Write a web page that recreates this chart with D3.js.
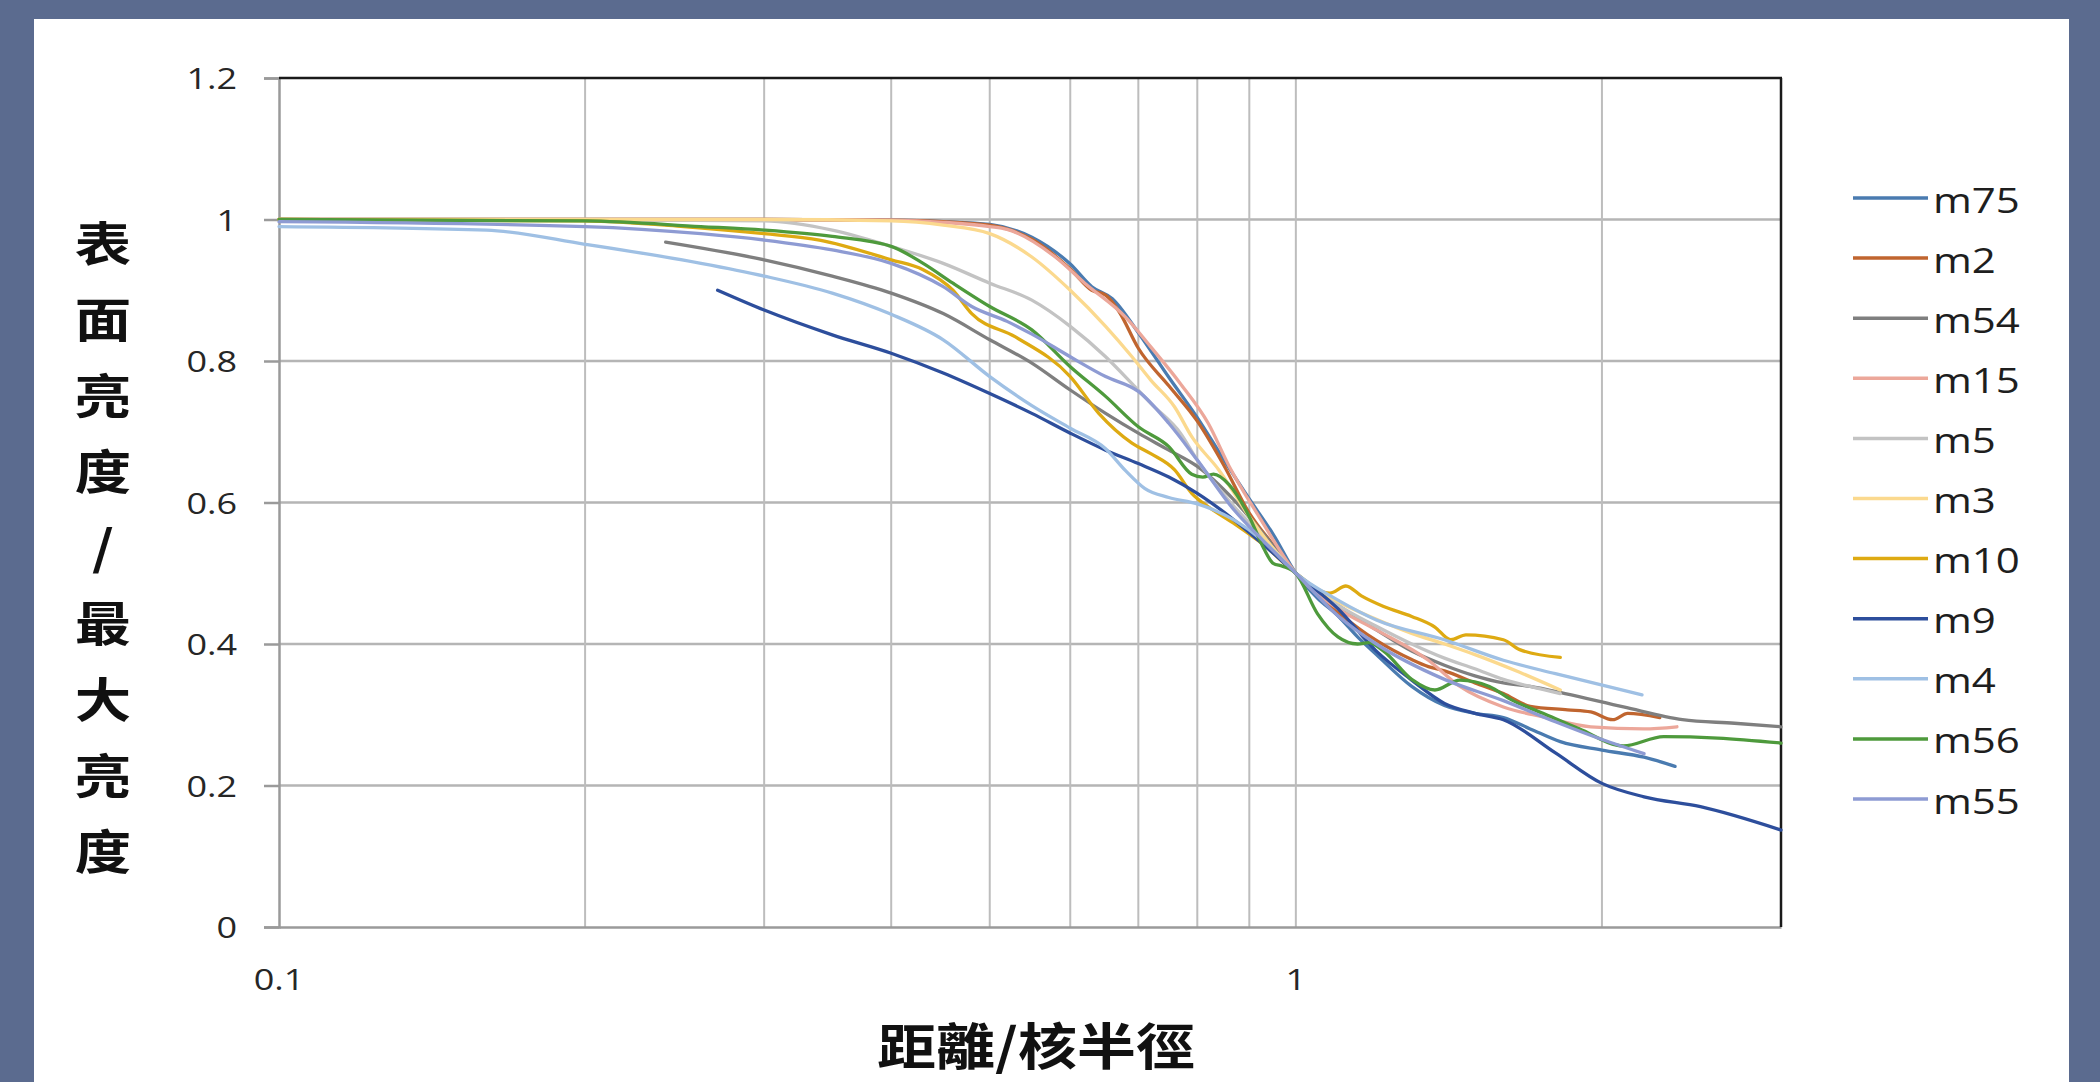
<!DOCTYPE html>
<html><head><meta charset="utf-8">
<script src="https://cdn.jsdelivr.net/npm/d3@7"></script>
<style>html,body{margin:0;padding:0;background:#5b6b8f;overflow:hidden}svg{display:block}</style>
</head><body><svg id="c" width="2100" height="1082"></svg>
<script>
// ---------- data ----------
const seriesNames = ["m75","m2","m54","m15","m5","m3","m10","m9","m4","m56","m55"];
const seriesColors = ["#4a7bb0","#c0652f","#7f7f7f","#eca79a","#c3c3c3","#fbd98e","#deaa12","#2d4e9c","#9fc0e4","#4e9a3c","#8e9bd3"];

const m75 = [[0.1,1.0],[0.2,1.0],[0.3,1.0],[0.4,0.999],[0.45,0.997],[0.5,0.993],[0.55,0.975],[0.6,0.937],[0.63,0.905],[0.66,0.888],[0.7,0.84],[0.75,0.777],[0.8,0.72],[0.85,0.66],[0.9,0.605],[0.95,0.555],[1.0,0.5],[1.05,0.465],[1.1,0.44],[1.15,0.41],[1.2,0.385],[1.3,0.34],[1.4,0.313],[1.5,0.302],[1.6,0.296],[1.7,0.28],[1.82,0.262],[2.0,0.25],[2.2,0.24],[2.36,0.227]];
const m2 = [[0.1,1.0],[0.2,1.0],[0.3,1.0],[0.4,0.999],[0.45,0.997],[0.5,0.992],[0.55,0.972],[0.6,0.93],[0.63,0.9],[0.65,0.893],[0.67,0.87],[0.7,0.818],[0.75,0.765],[0.8,0.715],[0.85,0.652],[0.9,0.585],[0.95,0.54],[1.0,0.5],[1.05,0.47],[1.1,0.445],[1.2,0.405],[1.3,0.378],[1.35,0.368],[1.4,0.362],[1.5,0.345],[1.6,0.33],[1.7,0.312],[1.85,0.307],[1.95,0.304],[2.05,0.293],[2.12,0.302],[2.28,0.296]];
const m54 = [[0.24,0.968],[0.3,0.943],[0.35,0.92],[0.4,0.896],[0.45,0.867],[0.5,0.83],[0.55,0.797],[0.6,0.759],[0.65,0.726],[0.7,0.698],[0.75,0.674],[0.8,0.651],[0.87,0.603],[0.93,0.555],[1.0,0.5],[1.1,0.455],[1.2,0.42],[1.3,0.39],[1.4,0.37],[1.5,0.355],[1.6,0.345],[1.7,0.34],[1.84,0.33],[2.1,0.311],[2.4,0.293],[2.7,0.288],[3.0,0.283]];
const m15 = [[0.1,1.0],[0.2,1.0],[0.3,1.0],[0.4,0.999],[0.45,0.996],[0.5,0.99],[0.52,0.986],[0.58,0.947],[0.62,0.91],[0.68,0.862],[0.72,0.82],[0.77,0.768],[0.82,0.712],[0.86,0.651],[0.92,0.58],[1.0,0.5],[1.1,0.45],[1.2,0.42],[1.35,0.377],[1.45,0.34],[1.6,0.311],[1.75,0.297],[1.95,0.283],[2.2,0.28],[2.37,0.283]];
const m5 = [[0.1,1.0],[0.2,1.0],[0.3,0.998],[0.35,0.985],[0.4,0.962],[0.45,0.938],[0.5,0.91],[0.55,0.886],[0.6,0.849],[0.65,0.806],[0.69,0.768],[0.72,0.74],[0.77,0.698],[0.8,0.66],[0.87,0.594],[0.93,0.55],[1.0,0.5],[1.1,0.455],[1.2,0.425],[1.3,0.4],[1.4,0.38],[1.5,0.365],[1.6,0.35],[1.7,0.34],[1.82,0.33]];
const m3 = [[0.1,1.0],[0.2,1.0],[0.3,1.0],[0.4,0.998],[0.45,0.992],[0.5,0.98],[0.55,0.947],[0.6,0.9],[0.65,0.849],[0.69,0.806],[0.72,0.773],[0.76,0.735],[0.79,0.693],[0.84,0.646],[0.9,0.58],[1.0,0.5],[1.1,0.46],[1.2,0.435],[1.3,0.415],[1.4,0.4],[1.5,0.385],[1.66,0.36],[1.82,0.335]];
const m10 = [[0.1,1.0],[0.2,0.998],[0.25,0.99],[0.3,0.98],[0.34,0.971],[0.4,0.943],[0.43,0.929],[0.46,0.9],[0.48,0.867],[0.53,0.834],[0.6,0.778],[0.64,0.726],[0.69,0.684],[0.72,0.669],[0.76,0.646],[0.79,0.613],[0.82,0.594],[0.87,0.57],[0.93,0.54],[1.0,0.5],[1.08,0.472],[1.12,0.482],[1.16,0.468],[1.22,0.453],[1.3,0.439],[1.37,0.424],[1.42,0.406],[1.47,0.413],[1.6,0.406],[1.66,0.392],[1.82,0.381]];
const m9 = [[0.27,0.9],[0.3,0.872],[0.35,0.837],[0.4,0.811],[0.45,0.783],[0.5,0.754],[0.55,0.726],[0.6,0.698],[0.65,0.674],[0.7,0.655],[0.75,0.636],[0.8,0.613],[0.87,0.575],[0.93,0.54],[1.0,0.5],[1.1,0.45],[1.2,0.39],[1.3,0.349],[1.4,0.316],[1.5,0.302],[1.6,0.293],[1.8,0.246],[2.0,0.203],[2.2,0.184],[2.5,0.17],[3.0,0.137]];
const m4 = [[0.1,0.99],[0.16,0.985],[0.2,0.965],[0.26,0.938],[0.3,0.92],[0.35,0.896],[0.4,0.866],[0.45,0.83],[0.5,0.778],[0.55,0.737],[0.6,0.705],[0.65,0.676],[0.68,0.645],[0.71,0.62],[0.75,0.607],[0.8,0.598],[0.87,0.575],[0.93,0.545],[1.0,0.5],[1.1,0.462],[1.2,0.434],[1.4,0.406],[1.6,0.377],[1.8,0.358],[2.19,0.328]];
const m56 = [[0.1,1.0],[0.2,0.998],[0.26,0.99],[0.3,0.985],[0.35,0.976],[0.4,0.962],[0.43,0.938],[0.46,0.91],[0.5,0.877],[0.55,0.844],[0.6,0.792],[0.65,0.75],[0.7,0.707],[0.75,0.679],[0.79,0.64],[0.81,0.636],[0.83,0.64],[0.86,0.625],[0.9,0.58],[0.93,0.535],[0.95,0.514],[0.97,0.51],[1.0,0.5],[1.05,0.443],[1.1,0.41],[1.15,0.4],[1.18,0.402],[1.22,0.39],[1.3,0.35],[1.37,0.335],[1.45,0.349],[1.55,0.34],[1.63,0.321],[1.75,0.302],[1.9,0.28],[2.1,0.256],[2.3,0.269],[2.6,0.267],[3.0,0.26]];
const m55 = [[0.1,0.997],[0.2,0.99],[0.26,0.98],[0.3,0.971],[0.35,0.957],[0.4,0.938],[0.45,0.905],[0.48,0.877],[0.52,0.856],[0.55,0.838],[0.6,0.806],[0.65,0.778],[0.7,0.757],[0.75,0.712],[0.8,0.66],[0.87,0.589],[0.93,0.545],[1.0,0.5],[1.1,0.44],[1.2,0.40],[1.4,0.35],[1.6,0.32],[1.8,0.29],[2.0,0.265],[2.2,0.245]];
const seriesData = [m75,m2,m54,m15,m5,m3,m10,m9,m4,m56,m55];

const yTicks = [0,0.2,0.4,0.6,0.8,1,1.2];
const yTickLabels = ["0","0.2","0.4","0.6","0.8","1","1.2"];
const xTicks = [0.1,1];
const xTickLabels = ["0.1","1"];
const xGridValues = [0.2,0.3,0.4,0.5,0.6,0.7,0.8,0.9,1,2];
const yTitle = "表面亮度/最大亮度";
const xTitle = "距離/核半徑";

// ---------- drawing ----------
const svg = d3.select("#c");
const SX = 1.2;
svg.append("rect").attr("x",0).attr("y",0).attr("width",2100).attr("height",1082).attr("fill","#5b6b8f");
svg.append("rect").attr("x",34).attr("y",19).attr("width",2035).attr("height",1063).attr("fill","#ffffff");

const L=279, R=1781, T=78, B=927;
const x = d3.scaleLog().domain([0.1,3]).range([L,R]);
const y = d3.scaleLinear().domain([0,1.2]).range([B,T]);

const grid = svg.append("g");
grid.selectAll("line.h").data(yTicks.filter(v=>v>0 && v<1.2)).join("line")
  .attr("x1",L).attr("x2",R).attr("y1",d=>y(d)).attr("y2",d=>y(d))
  .attr("stroke","#b5b5b5").attr("stroke-width",2.5);
grid.selectAll("line.v").data(xGridValues).join("line")
  .attr("x1",d=>x(d)).attr("x2",d=>x(d)).attr("y1",T).attr("y2",B)
  .attr("stroke","#bdbdbd").attr("stroke-width",2);

const yAxis = d3.axisLeft(y).tickValues(yTicks).tickSize(15).tickFormat(()=> "");
const ya = svg.append("g").attr("transform",`translate(${L},0)`).call(yAxis);
ya.select(".domain").attr("stroke","#9a9a9a").attr("stroke-width",2.5);
ya.selectAll(".tick line").attr("stroke","#9a9a9a").attr("stroke-width",2.5);
const xAxis = d3.axisBottom(x).tickValues([]).tickSize(0);
const xa = svg.append("g").attr("transform",`translate(0,${B})`).call(xAxis);
xa.select(".domain").attr("stroke","#9a9a9a").attr("stroke-width",2.5);
svg.append("line").attr("x1",L).attr("x2",R+1).attr("y1",T).attr("y2",T).attr("stroke","#1a1a1a").attr("stroke-width",2.5);
svg.append("line").attr("x1",R).attr("x2",R).attr("y1",T).attr("y2",B).attr("stroke","#1a1a1a").attr("stroke-width",2.5);

const txt = svg.append("g").attr("font-family","'Open Sans', sans-serif").attr("fill","#262626");
yTicks.forEach((v,i)=>{
  txt.append("text").attr("transform",`translate(237,${y(v)}) scale(${SX},1)`)
    .attr("text-anchor","end").attr("dominant-baseline","central").attr("font-size",30).text(yTickLabels[i]);
});
xTicks.forEach((v,i)=>{
  txt.append("text").attr("transform",`translate(${x(v)},979) scale(${SX},1)`)
    .attr("text-anchor","middle").attr("dominant-baseline","central").attr("font-size",30).text(xTickLabels[i]);
});

const line = d3.line().x(d=>x(d[0])).y(d=>y(d[1])).curve(d3.curveMonotoneX);
const lines = svg.append("g");
seriesData.forEach((s,i)=>{
  lines.append("path").attr("d",line(s)).attr("fill","none")
    .attr("stroke",seriesColors[i]).attr("stroke-width",3.3).attr("stroke-linejoin","round").attr("stroke-linecap","round");
});

const lg = svg.append("g");
seriesNames.forEach((n,i)=>{
  const yy = 198 + 60.1*i;
  lg.append("line").attr("x1",1853).attr("x2",1928).attr("y1",yy).attr("y2",yy)
    .attr("stroke",seriesColors[i]).attr("stroke-width",3.5);
  lg.append("text").attr("transform",`translate(1933,${yy+1}) scale(${SX},1)`)
    .attr("dominant-baseline","central").attr("font-family","'Open Sans', sans-serif")
    .attr("font-size",35).attr("fill","#1e1e1e").text(n);
});

const ct = svg.append("g").attr("font-family","'Noto Sans CJK TC', 'Noto Sans CJK SC', sans-serif")
  .attr("font-weight",700).attr("fill","#111");
Array.from(yTitle).forEach((ch,i)=>{
  ct.append("text").attr("transform",`translate(103,${241+76*i}) scale(1.2,1)`)
    .attr("text-anchor","middle").attr("dominant-baseline","central").attr("font-size",47).text(ch);
});
ct.append("text").attr("transform",`translate(1036,1044) scale(1.18,1)`)
  .attr("text-anchor","middle").attr("dominant-baseline","central").attr("font-size",50).text(xTitle);
</script>
</body></html>
